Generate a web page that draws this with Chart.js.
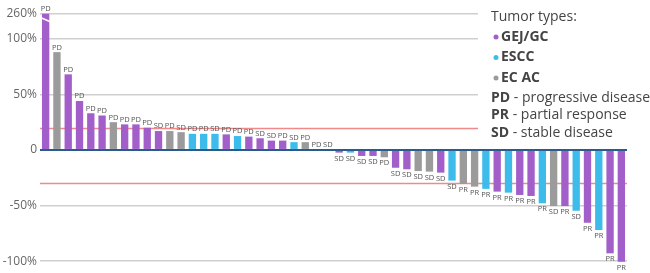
<!DOCTYPE html>
<html>
<head>
<meta charset="utf-8">
<script src="https://cdn.jsdelivr.net/npm/chart.js@4.4.1/dist/chart.umd.min.js"></script>
<style>
  html, body { margin: 0; padding: 0; background: #fff; }
  #wrap { width: 650px; height: 273px; position: relative; }
</style>
</head>
<body>
<div id="wrap"><canvas id="waterfall"></canvas></div>
<script>
// best change from baseline (%), one per patient
const changes = [260, 88, 68, 44, 33, 31, 25, 23, 23, 20, 17, 17, 16, 14.5, 14.5, 14.5, 14, 12.5, 12, 10.5,
  8.4, 8.4, 7, 7, 0, 0, -2.4, -2.4, -5.4, -5.4, -6.6, -16, -17.4, -19, -19.5, -20.4, -27.6, -30.6, -33, -35,
  -37.5, -38.4, -40.5, -41.4, -48, -50.5, -50.5, -54.7, -65.5, -72, -93, -100.6];
// g = GEJ/GC, e = ESCC, a = EC AC
const tumorTypes = ["g", "a", "g", "g", "g", "g", "a", "g", "g", "g", "g", "a", "a", "e", "e", "e", "g", "e", "g", "g",
  "g", "g", "e", "a", "a", "g", "g", "e", "g", "g", "a", "g", "g", "a", "a", "g", "e", "a", "a", "e",
  "g", "e", "g", "g", "e", "a", "g", "e", "g", "e", "g", "g"];
const responses = ["PD", "PD", "PD", "PD", "PD", "PD", "PD", "PD", "PD", "PD", "SD", "PD", "SD", "PD", "PD", "SD", "PD", "PD", "PD", "SD",
  "SD", "PD", "SD", "PD", "PD", "SD", "SD", "SD", "SD", "SD", "PD", "SD", "SD", "SD", "SD", "SD", "SD", "PR", "PR", "PR",
  "PR", "PR", "PR", "PR", "PR", "SD", "PR", "SD", "PR", "PR", "PR", "PR"];
const yTicks = [-100, -50, 0, 50, 100];
const refLines = [20, -30];
const breakAt = 122.5; // axis is broken above 100%, top tick shows 260%
const breakLabel = "260%";

const typeColors = { g: "#a35fc9", e: "#3dbcec", a: "#9b9b9b" };
const legendTypes = [["g", "GEJ/GC"], ["e", "ESCC"], ["a", "EC AC"]];
const legendResp = [["PD", " - progressive disease"], ["PR", " - partial response"], ["SD", " - stable disease"]];

const shown = changes.map((v) => Math.min(v, breakAt));

const overlay = {
  id: "overlay",
  beforeDatasetsDraw(chart) {
    const ctx = chart.ctx;
    const y = chart.scales.y;
    const area = chart.chartArea;
    ctx.save();
    // white panel behind the legend hides the upper grid lines
    ctx.fillStyle = "#fff";
    ctx.fillRect(478, 0, 172, 142);
    ctx.strokeStyle = "#f08a8a";
    ctx.lineWidth = 1.5;
    refLines.forEach((v) => {
      const py = Math.round(y.getPixelForValue(v)) + 0.5;
      ctx.beginPath();
      ctx.moveTo(area.left, py);
      ctx.lineTo(v > 0 ? 478 : area.right, py);
      ctx.stroke();
    });
    ctx.restore();
  },
  afterDatasetsDraw(chart) {
    const ctx = chart.ctx;
    const meta = chart.getDatasetMeta(0);
    ctx.save();
    ctx.font = "7.5px 'Open Sans'";
    ctx.fillStyle = "#555";
    ctx.textAlign = "center";
    meta.data.forEach((bar, i) => {
      if (changes[i] >= 0) {
        ctx.textBaseline = "bottom";
        ctx.fillText(responses[i], bar.x, bar.y - 1);
      } else {
        ctx.textBaseline = "top";
        ctx.fillText(responses[i], bar.x, bar.y + 2);
      }
      // break mark on clipped bars
      if (changes[i] > breakAt) {
        ctx.strokeStyle = "#fff";
        ctx.lineWidth = 1.5;
        ctx.beginPath();
        ctx.moveTo(bar.x - bar.width / 2 - 1, bar.y + 4);
        ctx.lineTo(bar.x + bar.width / 2 + 1, bar.y + 8);
        ctx.stroke();
      }
    });

    // legend
    let x = 491;
    ctx.textAlign = "left";
    ctx.textBaseline = "middle";
    ctx.fillStyle = "#444";
    ctx.font = "14px 'Open Sans'";
    ctx.fillText("Tumor types:", x, 17);
    legendTypes.forEach((t, k) => {
      const cy = 37 + k * 20.5;
      ctx.fillStyle = typeColors[t[0]];
      ctx.beginPath();
      ctx.arc(x + 5, cy, 2.5, 0, Math.PI * 2);
      ctx.fill();
      ctx.fillStyle = "#444";
      ctx.font = "bold 14px 'Open Sans'";
      ctx.fillText(t[1], x + 10, cy);
    });
    legendResp.forEach((r, k) => {
      const cy = 98 + k * 17.5;
      ctx.font = "bold 14px 'Open Sans'";
      ctx.fillStyle = "#444";
      ctx.fillText(r[0], x, cy);
      const w = ctx.measureText(r[0]).width;
      ctx.font = "14px 'Open Sans'";
      ctx.fillText(r[1], x + w, cy);
    });
    ctx.restore();
  },
};

const ctx = document.getElementById("waterfall").getContext("2d");
const chart = new Chart(ctx, {
  type: "bar",
  data: {
    labels: changes.map((v, i) => "P" + (i + 1)),
    datasets: [
      {
        data: shown,
        backgroundColor: tumorTypes.map((t) => typeColors[t]),
        barPercentage: 0.65,
        categoryPercentage: 1,
      },
    ],
  },
  options: {
    responsive: true,
    maintainAspectRatio: false,
    animation: false,
    layout: { padding: { top: 11, bottom: 3, left: 0, right: 23 } },
    plugins: {
      legend: { display: false },
      tooltip: { enabled: false },
    },
    scales: {
      x: { display: false },
      y: {
        min: -108,
        max: 125,
        afterFit: (scale) => {
          scale.width = 40;
          scale.paddingTop = 0;
          scale.paddingBottom = 0;
        },
        afterBuildTicks: (scale) => {
          scale.ticks = yTicks.concat([breakAt]).map((v) => ({ value: v }));
        },
        border: { display: false },
        grid: {
          drawTicks: false,
          color: (c) => (c.tick && c.tick.value === 0 ? "#2b5a8c" : "#cfcfcf"),
          lineWidth: (c) => (c.tick && c.tick.value === 0 ? 2 : 1.5),
        },
        ticks: {
          padding: 3,
          color: "#666",
          font: { family: "'Open Sans'", size: 12 },
          callback: (v) => (v === breakAt ? breakLabel : v === 0 ? "0" : v + "%"),
        },
      },
    },
  },
  plugins: [overlay],
});
</script>
</body>
</html>
